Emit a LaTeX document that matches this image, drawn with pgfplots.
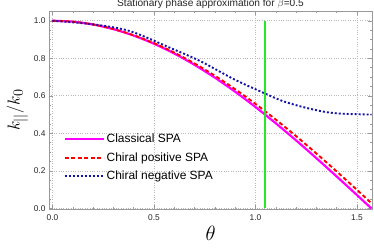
\documentclass[border=0pt]{standalone}
\usepackage{pgfplots}
\pgfplotsset{compat=1.18}
\usepackage{fontspec}
\setmainfont{Liberation Sans}
\definecolor{cMag}{RGB}{255,0,255}
\definecolor{cRed}{RGB}{255,0,0}
\definecolor{cBlue}{RGB}{20,20,170}
\definecolor{cGreen}{RGB}{40,230,40}
\begin{document}
\begin{tikzpicture}
\begin{axis}[
  scale only axis,
  width=323bp, height=198.3bp,
  xmin=-0.017, xmax=1.574,
  ymin=-0.005, ymax=1.052,
  axis line style={draw=gray!80},
  tick style={draw=gray!80, line width=0.5bp},
  major tick length=4bp, minor tick length=2.2bp,
  tick align=inside,
  xtick={0,0.5,1.0,1.5}, ytick={0,0.2,0.4,0.6,0.8,1.0},
  minor x tick num=4, minor y tick num=3,
  xticklabel style={/pgf/number format/fixed,/pgf/number format/fixed zerofill,/pgf/number format/precision=1, yshift=-1.5bp},
  yticklabel style={/pgf/number format/fixed,/pgf/number format/fixed zerofill,/pgf/number format/precision=1},
  /pgf/number format/assume math mode=true,
  ticklabel style={font=\fontsize{8.4}{9}\selectfont, text=black!85},
  grid=major,
  major grid style={draw=gray!55, dotted, line width=0.6bp},
  title={Stationary phase approximation for $\beta$=0.5},
  title style={font=\fontsize{10.2}{11}\selectfont, inner sep=0pt, yshift=-3.8bp, text=black!85},
  xlabel={$\theta$},
  xlabel style={font=\fontsize{21}{21}\selectfont, yshift=1bp},
  ylabel={$k_{||}/k_0$},
  ylabel style={font=\fontsize{19}{19}\selectfont, yshift=-1bp},
  legend style={draw=none, fill=none, at={(0.035,0.40)}, anchor=north west,
    font=\fontsize{12}{12}\selectfont, row sep=4.2bp},
  legend cell align=left,
  legend image code/.code={\draw[#1] (0bp,0bp) -- (39bp,0bp);},
]
\addplot[draw=cMag, line width=2.2bp, smooth] coordinates {
(0,1) (0.1,0.99500) (0.2,0.98007) (0.3,0.95534) (0.4,0.92106) (0.5,0.87758)
(0.6,0.82534) (0.7,0.76484) (0.8,0.69671) (0.9,0.62161) (1.0,0.54030)
(1.1,0.45360) (1.2,0.36236) (1.3,0.26750) (1.4,0.16997) (1.5,0.07074) (1.5708,0)};
\addlegendentry{Classical SPA}
\addplot[draw=cRed, line width=1.9bp, dash pattern=on 4bp off 2.5bp, smooth] coordinates {
(0,1) (0.1,0.99503) (0.2,0.98029) (0.3,0.95606) (0.4,0.92271) (0.5,0.88067)
(0.6,0.83038) (0.7,0.77233) (0.8,0.70705) (0.9,0.63507) (1.0,0.55698)
(1.1,0.47342) (1.2,0.38503) (1.3,0.29255) (1.4,0.19677) (1.5,0.09853) (1.5708,0.028)};
\addlegendentry{Chiral positive SPA}
\addplot[draw=cBlue, line width=1.9bp, dash pattern=on 2bp off 2bp, smooth] coordinates {
(0,1) (0.2,0.981) (0.381,0.945) (0.579,0.856) (0.728,0.785) (0.891,0.690)
(1.035,0.618) (1.124,0.576) (1.190,0.553) (1.272,0.530) (1.355,0.512)
(1.437,0.504) (1.5708,0.500)};
\addlegendentry{Chiral negative SPA}
\addplot[draw=cGreen, line width=1.8bp, forget plot] coordinates {(1.0472,0) (1.0472,1)};
\end{axis}
\pgfresetboundingbox
\path[use as bounding box] (current axis.south west) ++(-49bp,-41.7bp) rectangle ([shift={(2bp,11bp)}]current axis.north east);
\end{tikzpicture}
\end{document}
